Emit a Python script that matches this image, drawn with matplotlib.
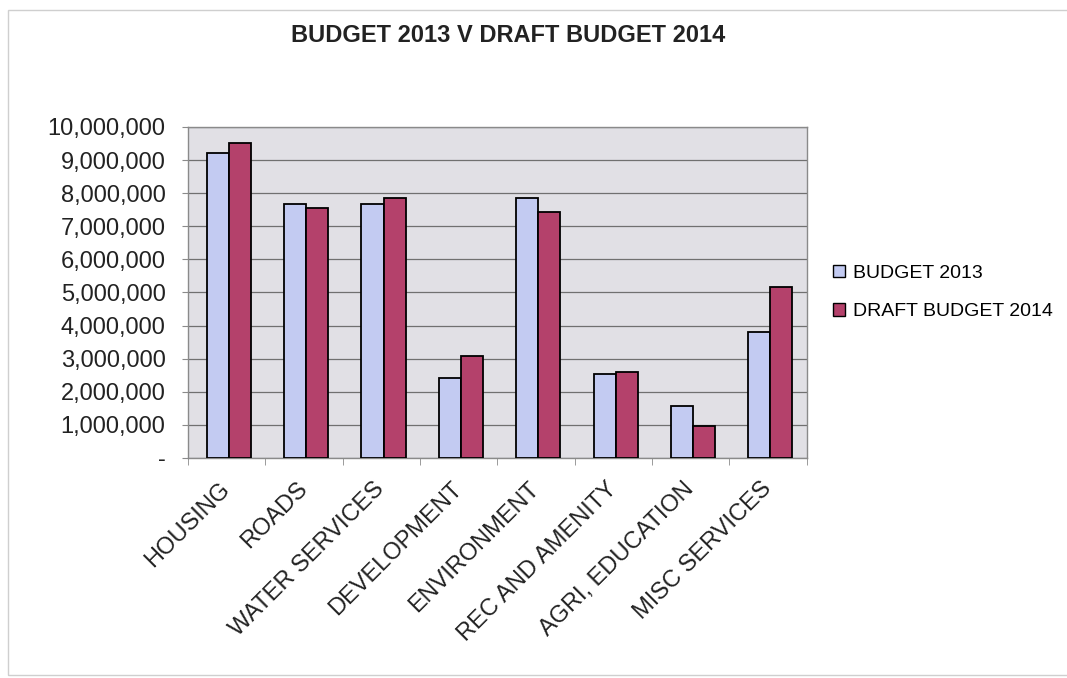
import numpy as np
import matplotlib
matplotlib.use("Agg")
import matplotlib.pyplot as plt
from matplotlib.patches import Rectangle
from matplotlib.ticker import FuncFormatter, FixedLocator

categories = ["HOUSING", "ROADS", "WATER SERVICES", "DEVELOPMENT",
              "ENVIRONMENT", "REC AND AMENITY", "AGRI, EDUCATION", "MISC SERVICES"]
budget_2013 = [9210000, 7670000, 7670000, 2430000, 7840000, 2540000, 1560000, 3810000]
draft_2014 = [9530000, 7540000, 7860000, 3090000, 7420000, 2600000, 970000, 5160000]
series_names = ["BUDGET 2013", "DRAFT BUDGET 2014"]

plt.rcParams['font.family'] = ['Liberation Sans', 'DejaVu Sans']

fig = plt.figure(figsize=(10.67, 6.78), dpi=100)
ax = fig.add_axes([0.176, 0.3245, 0.580, 0.4882])

# faint border of the chart area
fig.patches.append(Rectangle((8 / 1067, 3 / 678), 1.0, 665 / 678, transform=fig.transFigure,
                             fill=False, edgecolor="#cfcfcf", linewidth=1.0))

x = np.arange(len(categories))
w = 0.285
ax.bar(x - w / 2 + 0.03, budget_2013, w, color="#c3cbf2", edgecolor="black",
       linewidth=1.3, label=series_names[0], zorder=3)
ax.bar(x + w / 2 + 0.03, draft_2014, w, color="#b4416b", edgecolor="black",
       linewidth=1.3, label=series_names[1], zorder=3)

ax.set_facecolor("#e1e0e5")
ax.set_xlim(-0.5, len(categories) - 0.5)
ax.set_ylim(0, 10000000)
ax.set_yticks(np.arange(0, 10000001, 1000000))
ax.yaxis.set_major_formatter(FuncFormatter(lambda v, p: "-" if v == 0 else f"{int(v):,}"))
ax.grid(axis="y", color="#707070", linewidth=0.9, zorder=0)

ax.set_xticks(x)
ax.set_xticklabels(categories, rotation=45, ha="right", va="center",
                   rotation_mode="anchor", fontsize=17, color="#222222")
ax.tick_params(axis="x", length=0, pad=20)
ax.xaxis.set_minor_locator(FixedLocator(np.arange(-0.5, len(categories), 1)))
ax.tick_params(axis="x", which="minor", length=5, color="#8a8a8a")
ax.tick_params(axis="y", labelsize=17, length=4, pad=12, color="#8a8a8a", labelcolor="#222222")

for s in ax.spines.values():
    s.set_color("#8a8a8a")
    s.set_linewidth(1.0)

fig.text(508 / 1067, 1 - 36 / 678, "BUDGET 2013 V DRAFT BUDGET 2014", fontsize=17,
         fontweight="bold", color="#222222", ha="center", va="center")

leg = ax.legend(loc="center left", bbox_to_anchor=(1.015, 0.5), frameon=False,
                fontsize=14, handlelength=0.6, handleheight=0.6, handletextpad=0.4,
                labelspacing=1.1)
for h in leg.legend_handles:
    h.set_linewidth(1.0)

fig.savefig("out.png", dpi=100)
